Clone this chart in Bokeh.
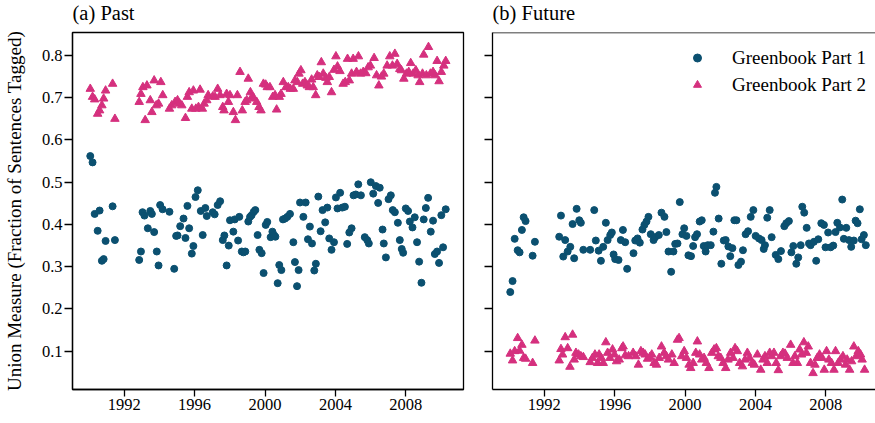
from bokeh.plotting import figure
from bokeh.layouts import row
from bokeh.models import (FixedTicker, Range1d, Span, Legend, LegendItem,
                          ColumnDataSource)
from bokeh.embed import file_html
from bokeh.resources import INLINE

FONT = "Liberation Serif"
TEAL = "#0b5070"
PINK = "#d5307e"

x_ticks = [1992, 1996, 2000, 2004, 2008]
y_ticks = [0.1, 0.2, 0.3, 0.4, 0.5, 0.6, 0.7, 0.8]
series_labels = ["Greenbook Part 1", "Greenbook Part 2"]
panel_titles = ["(a) Past", "(b) Future"]
y_label = "Union Measure (Fraction of Sentences Tagged)"

early_years = [1990.07, 1990.20, 1990.32, 1990.49, 1990.60, 1990.73, 1990.83, 1990.94, 1991.34, 1991.47]

# ---- (a) Past, Greenbook Part 1
past_p1_year = early_years + [
    1992.85, 1992.95, 1993.04, 1993.15, 1993.34, 1993.48, 1993.57, 1993.70, 1993.85, 1993.95,
    1994.04, 1994.18, 1994.57, 1994.84, 1994.95, 1995.03, 1995.18, 1995.37, 1995.48, 1995.59,
    1995.69, 1995.84, 1995.93, 1996.05, 1996.18, 1996.35, 1996.46, 1996.61, 1996.69, 1997.03,
    1997.14, 1997.31, 1997.45, 1997.60, 1997.69, 1997.82, 1997.94, 1998.01, 1998.20, 1998.28,
    1998.47, 1998.54, 1998.68, 1998.77, 1998.88, 1999.05, 1999.15, 1999.24, 1999.36, 1999.45,
    1999.58, 1999.68, 1999.81, 1999.92, 2000.04, 2000.13, 2000.32, 2000.42, 2000.51, 2000.59,
    2000.72, 2000.81, 2000.93, 2001.02, 2001.14, 2001.27, 2001.42, 2001.61, 2001.70, 2001.82,
    2001.91, 2001.99, 2002.18, 2002.31, 2002.44, 2002.55, 2002.67, 2002.80, 2002.89, 2003.03,
    2003.16, 2003.27, 2003.42, 2003.54, 2003.65, 2003.78, 2003.92, 2004.03, 2004.12, 2004.27,
    2004.39, 2004.54, 2004.67, 2004.79, 2004.92, 2005.03, 2005.16, 2005.30, 2005.45, 2005.67,
    2005.81, 2005.90, 2006.01, 2006.15, 2006.30, 2006.43, 2006.52, 2006.68, 2006.75, 2006.87,
    2007.02, 2007.15, 2007.26, 2007.38, 2007.55, 2007.66, 2007.77, 2007.85, 2008.00, 2008.13,
    2008.23, 2008.38, 2008.51, 2008.64, 2008.76, 2008.89, 2009.02, 2009.14, 2009.27, 2009.42,
    2009.55, 2009.65, 2009.78, 2009.89, 2010.02, 2010.12, 2010.27]
past_p1_val = [0.562, 0.547, 0.425, 0.385, 0.433, 0.314, 0.318, 0.361, 0.443, 0.363,
    0.316, 0.336, 0.429, 0.421, 0.391, 0.432, 0.425, 0.382, 0.336, 0.303,
    0.446, 0.436, 0.430, 0.295, 0.373, 0.374, 0.396, 0.414, 0.368, 0.444,
    0.391, 0.331, 0.349, 0.465, 0.481, 0.432, 0.375, 0.439, 0.420, 0.429,
    0.424, 0.446, 0.455, 0.363, 0.374, 0.303, 0.350, 0.410, 0.383, 0.412,
    0.362, 0.418, 0.336, 0.334, 0.336, 0.407, 0.418, 0.422, 0.430, 0.434,
    0.375, 0.340, 0.332, 0.285, 0.399, 0.406, 0.370, 0.383, 0.375, 0.371,
    0.261, 0.304, 0.292, 0.412, 0.414, 0.418, 0.425, 0.358, 0.311, 0.254,
    0.292, 0.452, 0.418, 0.452, 0.365, 0.395, 0.355, 0.291, 0.307, 0.466,
    0.384, 0.434, 0.405, 0.440, 0.367, 0.340, 0.358, 0.464, 0.438, 0.475,
    0.440, 0.442, 0.354, 0.381, 0.391, 0.469, 0.471, 0.495, 0.469, 0.370,
    0.363, 0.355, 0.500, 0.473, 0.491, 0.451, 0.487, 0.388, 0.355, 0.322,
    0.460, 0.469, 0.434, 0.429, 0.404, 0.363, 0.342, 0.333, 0.438, 0.432,
    0.407, 0.393, 0.417, 0.358, 0.312, 0.262, 0.412, 0.439, 0.463, 0.383,
    0.409, 0.330, 0.336, 0.309, 0.422, 0.346, 0.436]

# ---- (a) Past, Greenbook Part 2
past_p2_year = early_years + [
    1992.85, 1992.95, 1993.06, 1993.19, 1993.29, 1993.48, 1993.57, 1993.70, 1993.82, 1993.95,
    1994.08, 1994.19, 1994.57, 1994.70, 1994.89, 1995.03, 1995.14, 1995.27, 1995.48, 1995.59,
    1995.69, 1995.84, 1995.93, 1996.07, 1996.22, 1996.31, 1996.44, 1996.54, 1996.69, 1996.77,
    1997.03, 1997.16, 1997.31, 1997.45, 1997.60, 1997.67, 1997.82, 1997.92, 1998.01, 1998.20,
    1998.32, 1998.43, 1998.58, 1998.71, 1998.87, 1998.96, 1999.05, 1999.17, 1999.26, 1999.38,
    1999.53, 1999.66, 1999.77, 1999.91, 2000.04, 2000.13, 2000.28, 2000.44, 2000.57, 2000.66,
    2000.81, 2000.91, 2001.04, 2001.19, 2001.32, 2001.44, 2001.61, 2001.70, 2001.84, 2001.93,
    2002.04, 2002.14, 2002.27, 2002.40, 2002.52, 2002.65, 2002.74, 2002.88, 2002.97, 2003.08,
    2003.20, 2003.31, 2003.46, 2003.54, 2003.65, 2003.78, 2003.92, 2004.03, 2004.12, 2004.26,
    2004.44, 2004.56, 2004.69, 2004.79, 2004.92, 2005.01, 2005.20, 2005.31, 2005.43, 2005.58,
    2005.73, 2005.86, 2005.99, 2006.20, 2006.34, 2006.47, 2006.62, 2006.75, 2006.94, 2007.09,
    2007.24, 2007.38, 2007.51, 2007.66, 2007.75, 2007.89, 2008.04, 2008.17, 2008.28, 2008.42,
    2008.57, 2008.70, 2008.79, 2008.95, 2009.02, 2009.17, 2009.29, 2009.40, 2009.55, 2009.67,
    2009.78, 2009.89, 2010.02, 2010.16, 2010.27]
past_p2_val = [0.721, 0.702, 0.696, 0.662, 0.670, 0.682, 0.698, 0.717, 0.733, 0.650,
    0.690, 0.709, 0.725, 0.647, 0.729, 0.694, 0.666, 0.741, 0.682, 0.686,
    0.737, 0.706, 0.674, 0.682, 0.690, 0.694, 0.686, 0.682, 0.652, 0.702,
    0.713, 0.674, 0.717, 0.674, 0.678, 0.719, 0.674, 0.686, 0.694, 0.706,
    0.703, 0.702, 0.721, 0.706, 0.678, 0.670, 0.709, 0.690, 0.706, 0.666,
    0.647, 0.706, 0.761, 0.670, 0.690, 0.694, 0.745, 0.713, 0.702, 0.698,
    0.690, 0.678, 0.670, 0.733, 0.731, 0.725, 0.725, 0.702, 0.706, 0.672,
    0.702, 0.709, 0.737, 0.725, 0.725, 0.721, 0.721, 0.741, 0.737, 0.757,
    0.765, 0.733, 0.737, 0.729, 0.725, 0.743, 0.725, 0.706, 0.753, 0.749,
    0.784, 0.757, 0.747, 0.737, 0.749, 0.713, 0.766, 0.798, 0.774, 0.763,
    0.733, 0.737, 0.792, 0.741, 0.757, 0.792, 0.761, 0.798, 0.757, 0.761,
    0.758, 0.772, 0.776, 0.794, 0.753, 0.729, 0.750, 0.757, 0.776, 0.798,
    0.776, 0.804, 0.780, 0.768, 0.765, 0.745, 0.757, 0.761, 0.782, 0.757,
    0.765, 0.753, 0.737, 0.757, 0.802, 0.753, 0.820, 0.757, 0.761, 0.753,
    0.787, 0.739, 0.761, 0.776, 0.787]

# ---- (b) Future, Greenbook Part 1
fut_p1_year = early_years + [
    1992.85, 1992.95, 1993.08, 1993.19, 1993.33, 1993.48, 1993.61, 1993.70, 1993.84, 1993.99,
    1994.08, 1994.22, 1994.61, 1994.84, 1994.93, 1995.09, 1995.22, 1995.35, 1995.50, 1995.60,
    1995.75, 1995.84, 1995.94, 1996.03, 1996.22, 1996.35, 1996.47, 1996.60, 1996.71, 1997.07,
    1997.17, 1997.30, 1997.43, 1997.58, 1997.69, 1997.81, 1997.92, 1998.05, 1998.21, 1998.30,
    1998.51, 1998.66, 1998.83, 1998.94, 1999.06, 1999.21, 1999.34, 1999.44, 1999.57, 1999.70,
    1999.85, 1999.95, 2000.08, 2000.19, 2000.34, 2000.46, 2000.57, 2000.68, 2000.83, 2000.95,
    2001.06, 2001.17, 2001.29, 2001.46, 2001.61, 2001.70, 2001.78, 2001.91, 2002.06, 2002.20,
    2002.31, 2002.46, 2002.57, 2002.69, 2002.80, 2002.92, 2003.03, 2003.18, 2003.29, 2003.44,
    2003.58, 2003.73, 2003.88, 2004.01, 2004.20, 2004.35, 2004.47, 2004.54, 2004.67, 2004.81,
    2004.92, 2005.15, 2005.30, 2005.45, 2005.64, 2005.75, 2005.90, 2006.04, 2006.15, 2006.32,
    2006.43, 2006.57, 2006.66, 2006.77, 2006.91, 2007.04, 2007.13, 2007.32, 2007.45, 2007.57,
    2007.74, 2007.89, 2007.98, 2008.13, 2008.27, 2008.42, 2008.55, 2008.65, 2008.80, 2008.93,
    2009.02, 2009.16, 2009.31, 2009.44, 2009.59, 2009.69, 2009.80, 2009.93, 2010.03, 2010.16,
    2010.27]
fut_p1_val = [0.240, 0.266, 0.366, 0.339, 0.334, 0.387, 0.417, 0.408, 0.326, 0.359,
    0.371, 0.421, 0.324, 0.363, 0.336, 0.347, 0.401, 0.320, 0.437, 0.410,
    0.404, 0.340, 0.340, 0.434, 0.362, 0.338, 0.314, 0.347, 0.404, 0.363,
    0.375, 0.381, 0.329, 0.318, 0.316, 0.363, 0.387, 0.358, 0.295, 0.332,
    0.362, 0.367, 0.357, 0.388, 0.399, 0.407, 0.418, 0.377, 0.363, 0.370,
    0.375, 0.428, 0.418, 0.382, 0.336, 0.288, 0.336, 0.354, 0.355, 0.453,
    0.377, 0.391, 0.373, 0.327, 0.325, 0.349, 0.370, 0.377, 0.407, 0.410,
    0.349, 0.336, 0.351, 0.351, 0.383, 0.475, 0.489, 0.414, 0.307, 0.362,
    0.363, 0.348, 0.325, 0.344, 0.410, 0.410, 0.304, 0.312, 0.339, 0.377,
    0.384, 0.418, 0.434, 0.373, 0.367, 0.363, 0.342, 0.351, 0.416, 0.434,
    0.370, 0.328, 0.318, 0.337, 0.396, 0.403, 0.408, 0.334, 0.349, 0.307,
    0.322, 0.351, 0.442, 0.428, 0.392, 0.355, 0.351, 0.359, 0.314, 0.365,
    0.403, 0.399, 0.346, 0.381, 0.346, 0.350, 0.382, 0.404, 0.393, 0.459,
    0.366, 0.392, 0.363, 0.347, 0.362, 0.409, 0.403, 0.436, 0.365, 0.375,
    0.351]

# ---- (b) Future, Greenbook Part 2
fut_p2_year = early_years + [
    1992.85, 1992.95, 1993.04, 1993.19, 1993.33, 1993.46, 1993.61, 1993.70, 1993.80, 1993.95,
    1994.08, 1994.22, 1994.61, 1994.74, 1994.88, 1995.03, 1995.12, 1995.24, 1995.35, 1995.50,
    1995.60, 1995.73, 1995.88, 1995.99, 1996.11, 1996.26, 1996.41, 1996.48, 1996.60, 1996.79,
    1997.05, 1997.20, 1997.35, 1997.49, 1997.62, 1997.73, 1997.87, 1998.00, 1998.11, 1998.24,
    1998.38, 1998.53, 1998.66, 1998.81, 1998.94, 1999.06, 1999.25, 1999.38, 1999.57, 1999.66,
    1999.81, 1999.95, 2000.08, 2000.23, 2000.32, 2000.46, 2000.61, 2000.70, 2000.83, 2000.95,
    2001.08, 2001.21, 2001.36, 2001.52, 2001.65, 2001.78, 2001.89, 2002.03, 2002.16, 2002.31,
    2002.44, 2002.59, 2002.73, 2002.84, 2002.97, 2003.10, 2003.26, 2003.41, 2003.54, 2003.67,
    2003.82, 2003.94, 2004.11, 2004.30, 2004.43, 2004.54, 2004.67, 2004.81, 2004.92, 2005.05,
    2005.18, 2005.30, 2005.43, 2005.56, 2005.68, 2005.81, 2006.00, 2006.13, 2006.24, 2006.38,
    2006.51, 2006.62, 2006.75, 2006.89, 2007.00, 2007.13, 2007.27, 2007.38, 2007.51, 2007.64,
    2007.79, 2007.91, 2008.04, 2008.17, 2008.32, 2008.46, 2008.55, 2008.70, 2008.83, 2008.97,
    2009.12, 2009.21, 2009.35, 2009.46, 2009.59, 2009.72, 2009.84, 2009.97, 2010.06, 2010.20]
fut_p2_val = [0.094, 0.078, 0.100, 0.131, 0.101, 0.115, 0.084, 0.082, 0.072, 0.125,
    0.078, 0.105, 0.092, 0.133, 0.107, 0.063, 0.139, 0.080, 0.096, 0.092,
    0.088, 0.086, 0.074, 0.084, 0.092, 0.072, 0.092, 0.084, 0.072, 0.121,
    0.096, 0.084, 0.104, 0.092, 0.076, 0.080, 0.107, 0.111, 0.090, 0.088,
    0.096, 0.088, 0.068, 0.100, 0.096, 0.092, 0.082, 0.086, 0.092, 0.072,
    0.068, 0.084, 0.111, 0.096, 0.088, 0.080, 0.092, 0.072, 0.127, 0.131,
    0.088, 0.100, 0.084, 0.068, 0.060, 0.072, 0.096, 0.123, 0.092, 0.080,
    0.084, 0.072, 0.060, 0.096, 0.104, 0.107, 0.088, 0.084, 0.072, 0.060,
    0.080, 0.096, 0.084, 0.107, 0.100, 0.072, 0.064, 0.080, 0.096, 0.084,
    0.072, 0.068, 0.092, 0.056, 0.080, 0.088, 0.072, 0.096, 0.088, 0.096,
    0.072, 0.055, 0.088, 0.096, 0.094, 0.084, 0.115, 0.072, 0.088, 0.072,
    0.104, 0.092, 0.121, 0.096, 0.111, 0.072, 0.048, 0.068, 0.084, 0.092,
    0.084, 0.056, 0.100, 0.080, 0.072, 0.056, 0.100, 0.072, 0.080, 0.088,
    0.068, 0.080, 0.056, 0.076, 0.111, 0.088, 0.100, 0.092, 0.080, 0.056]

y_rng = Range1d(0.0093, 0.8545)
FRAME_H = 357
TOP_B = 42          # title panel; the layout is lifted by SHIFT so the frame top stays at y=32
SHIFT = 10
BOT_B = 34


def make_fig(x_rng, width, left_b, right_b, title):
    p = figure(width=width, height=TOP_B + FRAME_H + BOT_B, x_range=x_rng, y_range=y_rng,
               output_backend="svg", toolbar_location=None,
               min_border_left=left_b, min_border_right=right_b,
               min_border_top=TOP_B, min_border_bottom=BOT_B,
               background_fill_color="white", border_fill_color="white")
    p.title.text = title
    p.title.text_font = FONT
    p.title.text_font_size = "20.5px"
    p.title.text_font_style = "normal"
    p.title.text_color = "black"
    p.title.align = "left"
    p.title.offset = 0
    p.title.standoff = 17
    p.xgrid.visible = False
    p.ygrid.visible = False
    for ax in (p.xaxis[0], p.yaxis[0]):
        ax.axis_line_color = "black"
        ax.axis_line_width = 1.3
        ax.major_tick_line_color = "black"
        ax.major_tick_line_width = 1.3
        ax.minor_tick_line_color = None
        ax.major_tick_in = 0
        ax.major_label_text_font = FONT
        ax.major_label_text_font_size = "16.5px"
        ax.major_label_text_color = "black"
    p.xaxis.ticker = FixedTicker(ticks=x_ticks)
    p.yaxis.ticker = FixedTicker(ticks=y_ticks)
    p.xaxis.major_tick_out = 7
    p.xaxis.major_label_standoff = 2
    p.yaxis.major_tick_out = 8
    p.yaxis.major_label_standoff = 2
    return p


# left panel
p1 = make_fig(Range1d(1989.06, 2011.28), 468, 72, 5, panel_titles[0])
p1.outline_line_color = "black"
p1.outline_line_width = 1.3
p1.yaxis.axis_label = y_label
p1.yaxis.axis_label_text_font = FONT
p1.yaxis.axis_label_text_font_size = "19px"
p1.yaxis.axis_label_text_font_style = "normal"
p1.yaxis.axis_label_text_color = "black"
p1.yaxis.axis_label_standoff = 14

s11 = ColumnDataSource(dict(x=past_p1_year, y=past_p1_val))
s12 = ColumnDataSource(dict(x=past_p2_year, y=past_p2_val))
p1.scatter("x", "y", source=s11, marker="circle", size=7, color=TEAL)
p1.scatter("x", "y", source=s12, marker="triangle", size=8.5, color=PINK)

# right panel (its right edge runs off the picture, as in the original)
p2 = make_fig(Range1d(1989.06, 2010.82), 407, 24, 0, panel_titles[1])
p2.outline_line_color = None
p2.yaxis.major_label_text_font_size = "0px"
p2.yaxis.major_label_text_color = None
p2.add_layout(Span(location=y_rng.end, dimension="width", line_color="black", line_width=1.3))

s21 = ColumnDataSource(dict(x=fut_p1_year, y=fut_p1_val))
s22 = ColumnDataSource(dict(x=fut_p2_year, y=fut_p2_val))
r1 = p2.scatter("x", "y", source=s21, marker="circle", size=7, color=TEAL)
r2 = p2.scatter("x", "y", source=s22, marker="triangle", size=8.5, color=PINK)

legend = Legend(items=[LegendItem(label=series_labels[0], renderers=[r1]),
                       LegendItem(label=series_labels[1], renderers=[r2])],
                location=(195, 291), border_line_color=None, background_fill_alpha=0,
                padding=0, margin=0, spacing=0, glyph_width=20, glyph_height=27,
                label_height=27, label_standoff=25, label_text_font=FONT,
                label_text_font_size="19px", label_text_color="black")
p2.add_layout(legend)

layout = row(p1, p2, margin=(-SHIFT, 0, 0, 0))
open("out.html", "w").write(file_html(layout, INLINE))
